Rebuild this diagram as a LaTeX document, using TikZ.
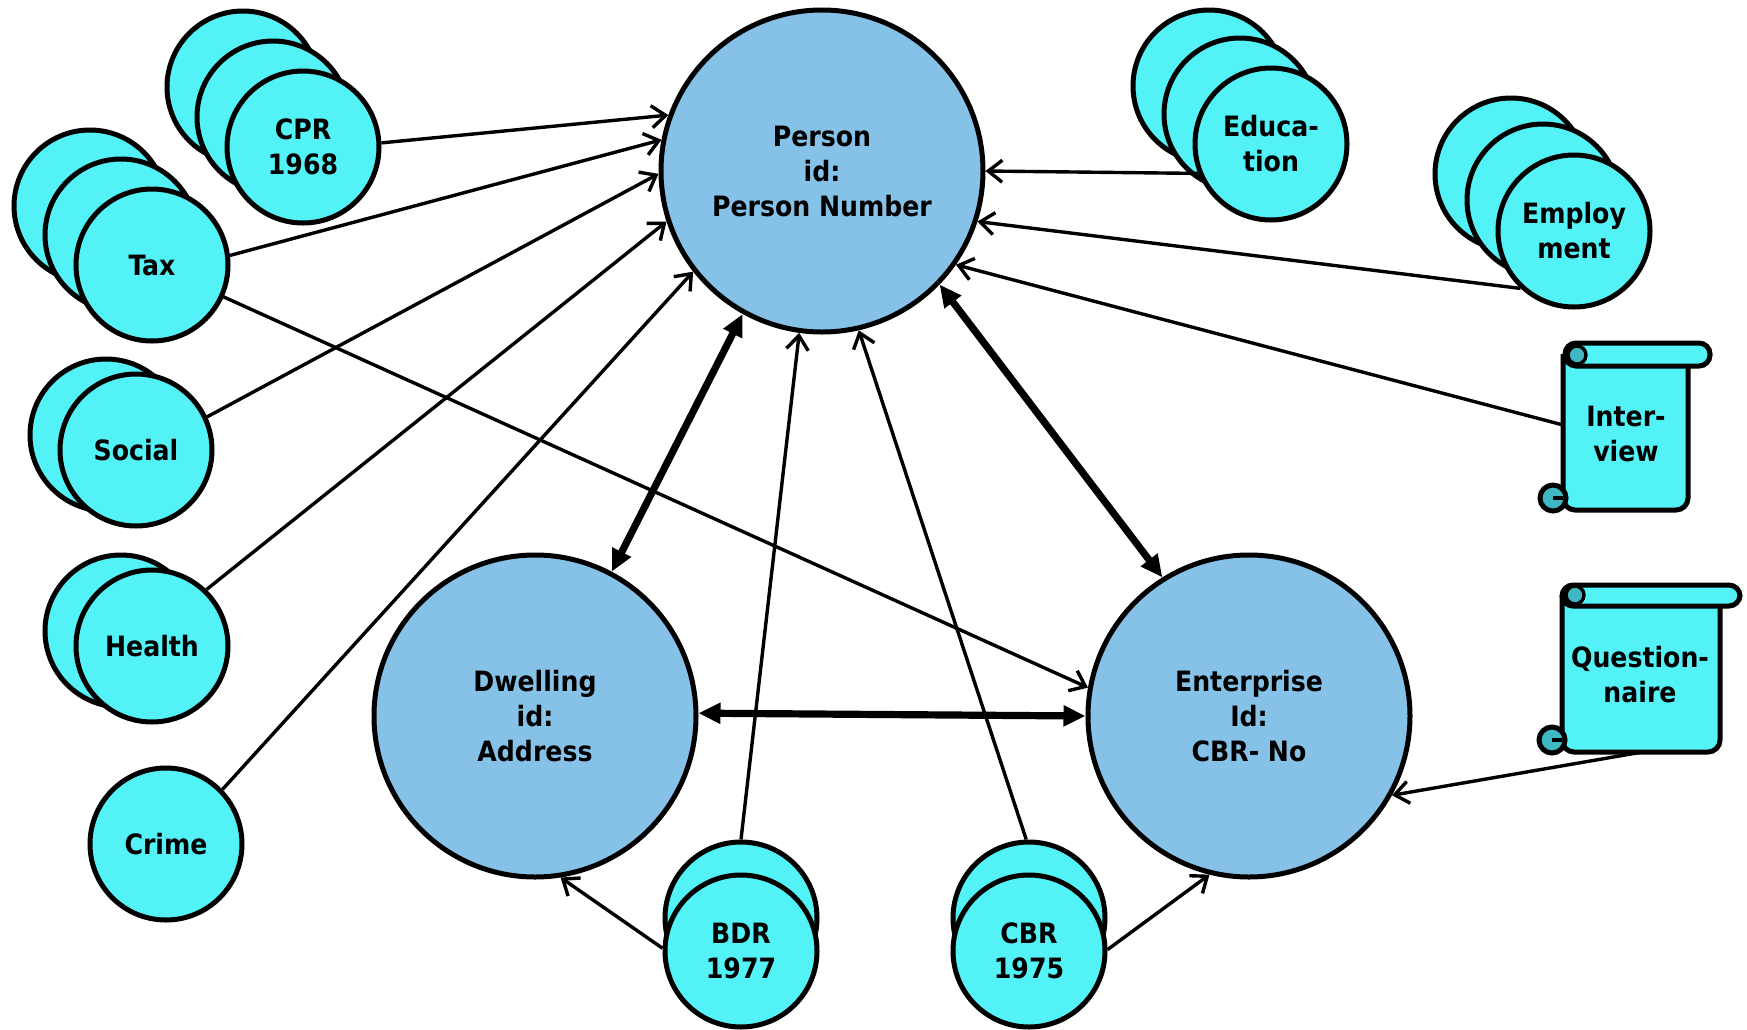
\documentclass[tikz,border=0pt]{standalone}
\usepackage{fontspec}
\setmainfont{DejaVu Sans Condensed}
\usetikzlibrary{arrows.meta}
\definecolor{bigfill}{HTML}{86C2E8}
\definecolor{smallfill}{HTML}{52F2F7}
\definecolor{curlfill}{HTML}{3FB8C4}
\begin{document}
\begin{tikzpicture}[x=0.5pt,y=-0.5pt,
  font=\fontsize{14}{17.5}\selectfont\bfseries,
  big/.style={circle, draw, line width=2.5pt, fill=bigfill, minimum size=161pt, inner sep=0pt, align=center},
  small/.style={circle, draw, line width=2.5pt, fill=smallfill, minimum size=76pt, inner sep=0pt, align=center},
  scrolltext/.style={rectangle, inner sep=0pt, align=center},
  scrollline/.style={line width=2.5pt, fill=smallfill},
  thinarrow/.style={line width=1.7pt, -{Straight Barb[length=7pt,width=11pt,line width=1.7pt]}},
  thickarrow/.style={line width=3.6pt, {Triangle[length=11pt,width=10pt]}-{Triangle[length=11pt,width=10pt]}}
]
\useasboundingbox (0,0) rectangle (1747,1029);

% main entities
\node[big] (person) at (822,171) {Person\\id:\\Person Number};
\node[big] (dwelling) at (535,716) {Dwelling\\id:\\Address};
\node[big] (enterprise) at (1249,716) {Enterprise\\Id:\\CBR- No};

% registers
\node[small] (cpr3) at (243,87) {};
\node[small] (cpr2) at (273,117) {};
\node[small] (cpr) at (303,147) {CPR\\1968};

\node[small] (tax3) at (90,206) {};
\node[small] (tax2) at (121,235) {};
\node[small] (tax) at (152,265) {Tax};

\node[small] (social2) at (106,435) {};
\node[small] (social) at (136,450) {Social};

\node[small] (health2) at (121,631) {};
\node[small] (health) at (152,646) {Health};

\node[small] (crime) at (166,844) {Crime};

\node[small] (bdrb) at (741,918) {};
\node[small] (bdr) at (741,951) {BDR\\1977};

\node[small] (cbrb) at (1029,918) {};
\node[small] (cbr) at (1029,951) {CBR\\1975};

\node[small] (edu3) at (1209,86) {};
\node[small] (edu2) at (1240,114) {};
\node[small] (edu) at (1271,144) {Educa-\\tion};

\node[small] (emp3) at (1511,174) {};
\node[small] (emp2) at (1543,200) {};
\node[small] (emp) at (1574,231) {Employ\\ment};

% interview scroll
\draw[scrollline, rounded corners=6pt] (1563,354) -- (1563,510) -- (1688,510) -- (1688,354);
\draw[line width=2.5pt, fill=curlfill] (1553,498) circle (6.5pt);
\draw[line width=1.7pt] (1553,498) -- (1563,498);
\draw[scrollline, rounded corners=5.5pt] (1565,343) rectangle (1710,366);
\draw[line width=1.7pt, fill=curlfill] (1577,355) circle (4.5pt);
\node[scrolltext, minimum width=62.5pt, minimum height=78pt] (interview) at (1626,434) {Inter-\\view};

% questionnaire scroll
\draw[scrollline, rounded corners=6pt] (1562,595) -- (1562,752) -- (1720,752) -- (1720,595);
\draw[line width=2.5pt, fill=curlfill] (1552,740) circle (6.5pt);
\draw[line width=1.7pt] (1552,740) -- (1562,740);
\draw[scrollline, rounded corners=5.5pt] (1562,585) rectangle (1740,606);
\draw[line width=1.7pt, fill=curlfill] (1575,595) circle (4.5pt);
\node[scrolltext, minimum width=79pt, minimum height=77pt] (quest) at (1640,675) {Question-\\naire};

% connectors
\draw[thinarrow] (cpr.3) -- (person.160);
\draw[thinarrow] (tax.7) -- (person.169);
\draw[thinarrow] (social.25) -- (person.181);
\draw[thinarrow] (health.46) -- (person.198);
\draw[thinarrow] (crime.44) -- (person.218);
\draw[thinarrow] (tax.-24) -- (enterprise.170);
\draw[thinarrow] (bdrb.90) -- (person.262);
\draw[thinarrow] (cbrb.92) -- (person.283);
\draw[thinarrow] (bdr.178) -- (dwelling.279);
\draw[thinarrow] (cbr.1) -- (enterprise.256);
\draw[thinarrow] (edu.202) -- (person.0);
\draw[thinarrow] (emp.227) -- (person.-18);
\draw[thinarrow] ([yshift=4.5pt]interview.west) -- (person.-35);
\draw[thinarrow] (quest.south) -- (enterprise.-29);
\draw[thickarrow] (dwelling.62) -- (person.241);
\draw[thickarrow] (person.-44) -- (enterprise.122);
\draw[thickarrow] (dwelling.1) -- (enterprise.180);
\end{tikzpicture}
\end{document}
